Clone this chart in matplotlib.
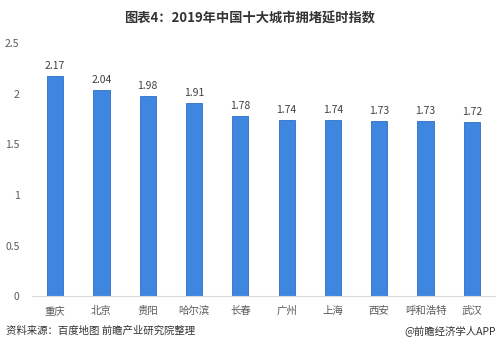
import matplotlib.pyplot as plt

plt.rcParams["font.family"] = ["Noto Sans CJK SC", "DejaVu Sans"]

cities = ["重庆", "北京", "贵阳", "哈尔滨", "长春", "广州", "上海", "西安", "呼和浩特", "武汉"]
values = [2.17, 2.04, 1.98, 1.91, 1.78, 1.74, 1.74, 1.73, 1.73, 1.72]
yticks = [0, 0.5, 1, 1.5, 2, 2.5]

fig = plt.figure(figsize=(5.0, 3.56), dpi=100)
ax = fig.add_axes([0.064, 0.168, 0.926, 0.711])

x = range(len(cities))
ax.bar(x, values, width=0.35, color="#3f86e0", edgecolor="#2f6fc4", linewidth=0.6)

for xi, v in zip(x, values):
    ax.text(xi, v + 0.05, f"{v:.2f}", ha="center", va="bottom", fontsize=7.5, color="#404040")

ax.set_xlim(-0.5, len(cities) - 0.5)
ax.set_ylim(0, 2.5)
ax.set_yticks(yticks)
ax.set_yticklabels([f"{t:g}" for t in yticks])
ax.set_xticks(list(x))
ax.set_xticklabels(cities)
ax.tick_params(axis="both", length=0, labelsize=7.5, colors="#595959")
ax.tick_params(axis="y", pad=9)
ax.tick_params(axis="x", pad=7)

for side in ["top", "right", "left"]:
    ax.spines[side].set_visible(False)
ax.spines["bottom"].set_color("#d9d9d9")

fig.text(0.5, 0.948, "图表4：2019年中国十大城市拥堵延时指数", ha="center", va="center",
         fontsize=9.5, fontweight="bold", color="#333333")
fig.text(0.012, 0.07, "资料来源：百度地图 前瞻产业研究院整理", ha="left", va="center",
         fontsize=7.5, color="#333333")
fig.text(0.992, 0.07, "@前瞻经济学人APP", ha="right", va="center",
         fontsize=7.5, color="#333333")

fig.savefig("out.png", dpi=100)
